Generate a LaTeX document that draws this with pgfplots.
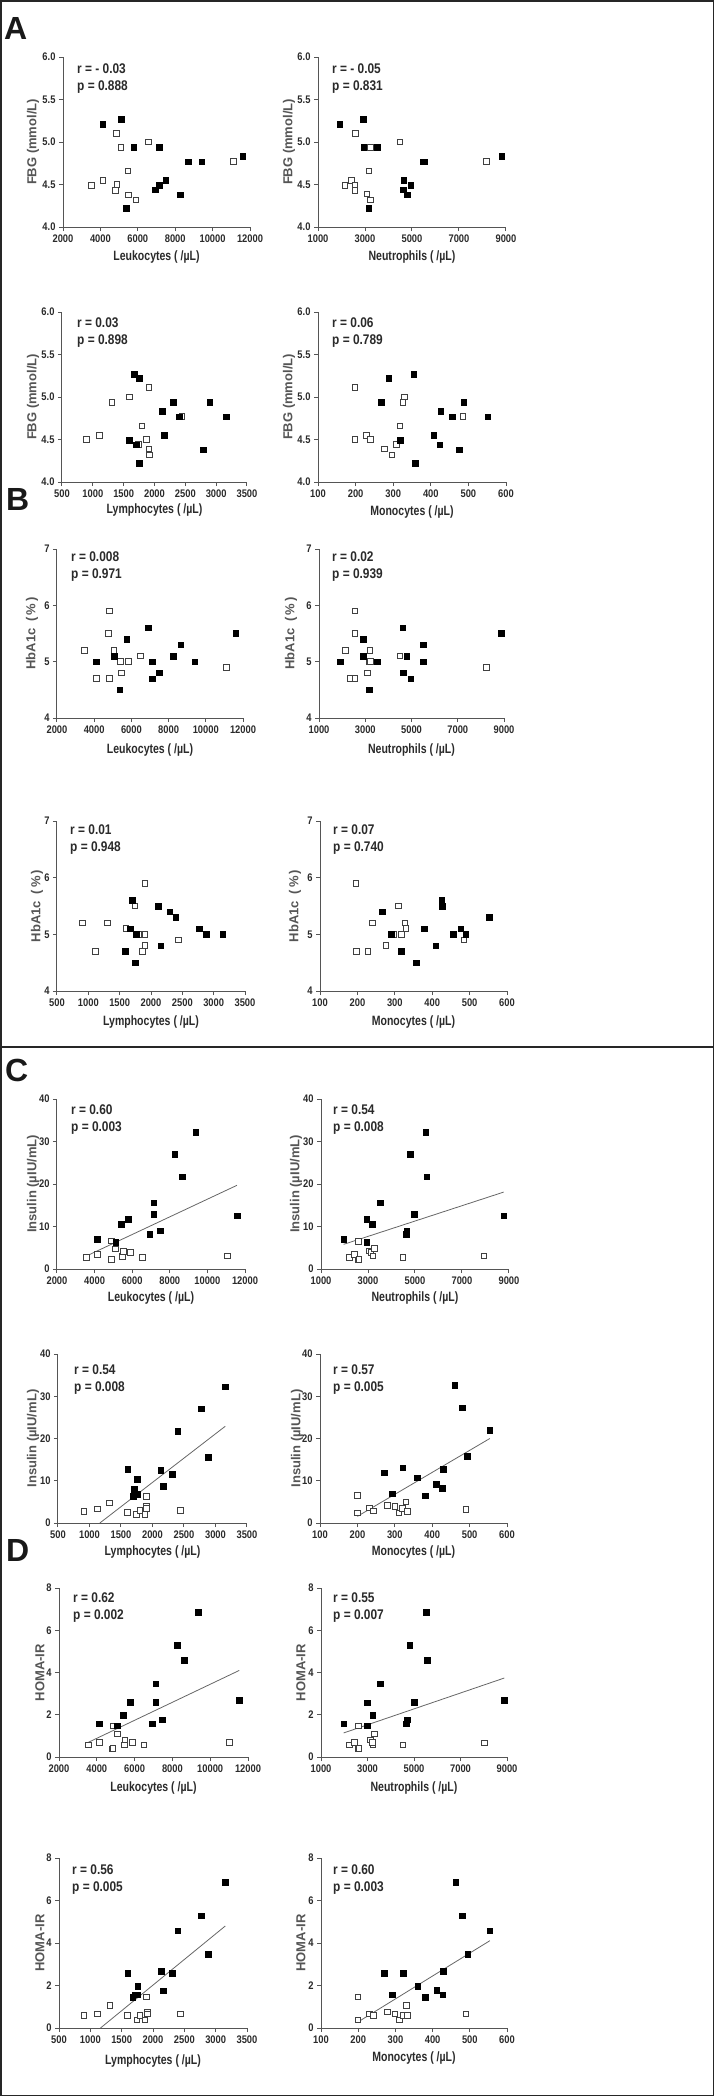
\documentclass[border=0pt]{standalone}
\usepackage{fontspec}
\setmainfont{Liberation Sans}
\newfontfamily\narrow{Liberation Sans}[FakeStretch=0.85]
\newfontfamily\narrowx{Liberation Sans}[FakeStretch=0.78]
\usepackage{pgfplots}
\pgfplotsset{compat=1.18}
\definecolor{axgray}{HTML}{555555}
\definecolor{txt}{HTML}{2A2A2A}
\tikzset{stat/.style={anchor=west, inner sep=0pt, font=\narrow\bfseries\fontsize{14}{14}\selectfont, text=txt}}
\newcommand{\st}[4]{\node[stat, xshift=#1pt, yshift=-#2pt] at (rel axis cs:0,1) {#3};
  \node[stat, xshift=#1pt, yshift={-#2pt-18.5pt}] at (rel axis cs:0,1) {#4};}
\pgfplotsset{
 base/.style={
  scale only axis, axis lines=left, axis line style={-, draw=axgray, line width=1pt},
  tick style={draw=axgray, line width=1pt}, tick align=outside, major tick length=4pt,
  minor tick num=0, clip=false, scaled ticks=false,
  ticklabel style={font=\narrow\bfseries\fontsize{11}{11}\selectfont, text=txt},
  /pgf/number format/assume math mode=true, /pgf/number format/1000 sep={},
  every axis x label/.style={at={(axis description cs:0.5,0)}, anchor=center, font=\narrowx\bfseries\fontsize{13.5}{13.5}\selectfont, text=txt},
  every axis y label/.style={at={(axis description cs:0,0.5)}, anchor=center, rotate=90, font=\bfseries\fontsize{13}{13}\selectfont, text=axgray},
  anchor=south west,
 },
 leuk/.style={xmin=2000, xmax=12000, xtick={2000,4000,6000,8000,10000,12000}, xlabel={Leukocytes ( /µL)}},
 neut/.style={xmin=1000, xmax=9000, xtick={1000,3000,5000,7000,9000}, xlabel={Neutrophils ( /µL)}},
 lymph/.style={xmin=500, xmax=3500, xtick={500,1000,1500,2000,2500,3000,3500}, xlabel={Lymphocytes ( /µL)}},
 mono/.style={xmin=100, xmax=600, xtick={100,200,300,400,500,600}, xlabel={Monocytes ( /µL)}},
 fbg/.style={ymin=4, ymax=6, ytick={4,4.5,5,5.5,6}, yticklabel style={/pgf/number format/.cd, fixed, fixed zerofill, precision=1}, ylabel={FBG (mmol/L)}},
 hba/.style={ymin=4, ymax=7, ytick={4,5,6,7}, ylabel={HbA1c\enspace(\,\%\,)}},
 ins/.style={ymin=0, ymax=40, ytick={0,10,20,30,40}, ylabel={Insulin (µIU/mL)}},
 homa/.style={ymin=0, ymax=8, ytick={0,2,4,6,8}, ylabel={HOMA-IR}},
 open/.style={only marks, mark=square*, mark size=2.8pt, mark options={fill=white, draw=black!75, line width=0.8pt}},
 filled/.style={only marks, mark=square*, mark size=2.8pt, mark options={fill=black, draw=black, line width=0.5pt}},
 reg/.style={draw=black!60, line width=0.8pt, no marks},
}
\begin{document}
\begin{tikzpicture}
\draw[line width=1.5pt, black!85] (0.75pt,-0.75pt) rectangle (713.25pt,-2095.25pt);
\draw[line width=2pt, black!85] (0pt,-1047pt) -- (714pt,-1047pt);
\node[anchor=west, inner sep=0pt, font=\bfseries\fontsize{32}{32}\selectfont, text=black!90] at (4pt,-28pt) {A};
\node[anchor=west, inner sep=0pt, font=\bfseries\fontsize{32}{32}\selectfont, text=black!90] at (6pt,-499pt) {B};
\node[anchor=west, inner sep=0pt, font=\bfseries\fontsize{32}{32}\selectfont, text=black!90] at (5pt,-1070pt) {C};
\node[anchor=west, inner sep=0pt, font=\bfseries\fontsize{32}{32}\selectfont, text=black!90] at (6pt,-1550pt) {D};

% ---------- Row 1 ----------
\begin{axis}[base, at={(63pt,-227pt)}, width=187pt, height=170pt, leuk, fbg, xlabel style={yshift=-30pt}, ylabel style={yshift=30pt}]
\addplot[open] coordinates {(3518,4.49) (4143,4.55) (4857,5.10) (5089,4.94) (4800,4.43) (4893,4.50) (5464,4.66) (5500,4.38) (5893,4.32) (6554,5.00) (11107,4.77)};
\addplot[filled] coordinates {(4125,5.21) (5125,5.27) (5786,4.94) (5393,4.22) (6929,4.44) (7143,4.94) (7143,4.49) (7500,4.55) (8286,4.38) (8696,4.77) (9411,4.77) (11607,4.83)};
\st{14}{12}{r = - 0.03}{p = 0.888}
\end{axis}
\begin{axis}[base, at={(318pt,-227pt)}, width=188pt, height=170pt, neut, fbg, xlabel style={yshift=-30pt}, ylabel style={yshift=29pt}]
\addplot[open] coordinates {(2137,4.49) (2421,4.55) (2563,4.49) (2563,4.43) (2592,5.10) (3089,4.39) (3174,4.66) (3231,4.94) (3231,4.32) (4481,5.00) (8176,4.77)};
\addplot[filled] coordinates {(1924,5.21) (2918,5.27) (2947,4.94) (3529,4.94) (3160,4.22) (4623,4.44) (4652,4.55) (4794,4.38) (4950,4.49) (5476,4.77) (5530,4.77) (8815,4.83)};
\st{14}{12}{r = - 0.05}{p = 0.831}
\end{axis}

% ---------- Row 2 ----------
\begin{axis}[base, at={(62pt,-482pt)}, width=185pt, height=170pt, lymph, fbg, xlabel style={yshift=-28pt}, ylabel style={yshift=29pt}]
\addplot[open] coordinates {(893,4.50) (1103,4.55) (1308,4.94) (1593,5.00) (1906,5.11) (1793,4.66) (1873,4.50) (1739,4.44) (1906,4.39) (1916,4.32) (2444,4.77)};
\addplot[filled] coordinates {(1674,5.27) (1750,5.22) (1593,4.49) (1701,4.44) (1750,4.22) (2127,4.83) (2304,4.94) (2159,4.55) (2401,4.77) (2789,4.38) (2897,4.94) (3166,4.77)};
\st{15}{11}{r = 0.03}{p = 0.898}
\end{axis}
\begin{axis}[base, at={(318pt,-482pt)}, width=188pt, height=170pt, mono, fbg, xlabel style={yshift=-30pt}, ylabel style={yshift=29pt}]
\addplot[open] coordinates {(198,5.11) (198,4.50) (229,4.55) (239,4.50) (276,4.39) (297,4.32) (309,4.44) (318,4.66) (326,4.94) (329,5.00) (485,4.77)};
\addplot[filled] coordinates {(269,4.94) (288,5.22) (318,4.49) (355,5.27) (358,4.22) (408,4.55) (426,4.83) (424,4.44) (457,4.77) (476,4.38) (488,4.94) (551,4.77)};
\st{14}{11}{r = 0.06}{p = 0.789}
\end{axis}

% ---------- Row 3 ----------
\begin{axis}[base, at={(57pt,-718pt)}, width=186pt, height=169pt, leuk, hba, xlabel style={yshift=-32pt}, ylabel style={yshift=25pt}]
\addplot[open] coordinates {(3487,5.2) (4115,4.7) (4778,5.5) (4832,5.9) (4832,4.7) (5065,5.2) (5423,5.0) (5477,4.8) (5853,5.0) (6498,5.1) (11104,4.9)};
\addplot[filled] coordinates {(4115,5.0) (5065,5.1) (5369,4.5) (5746,5.4) (6910,5.6) (7125,5.0) (7125,4.7) (7502,4.8) (8237,5.1) (8649,5.3) (9401,5.0) (11606,5.5)};
\st{14}{8}{r = 0.008}{p = 0.971}
\end{axis}
\begin{axis}[base, at={(319pt,-718pt)}, width=185pt, height=169pt, neut, hba, xlabel style={yshift=-32pt}, ylabel style={yshift=28pt}]
\addplot[open] coordinates {(2153,5.2) (2369,4.7) (2557,4.7) (2557,5.5) (2557,5.9) (3090,4.8) (3177,5.0) (3230,5.0) (3205,5.2) (4503,5.1) (8250,4.9)};
\addplot[filled] coordinates {(1908,5.0) (2917,5.4) (2917,5.1) (3162,4.5) (3523,5.0) (4618,5.6) (4647,4.8) (4791,5.1) (4964,4.7) (5512,5.3) (5512,5.0) (8870,5.5)};
\st{13}{8}{r = 0.02}{p = 0.939}
\end{axis}

% ---------- Row 4 ----------
\begin{axis}[base, at={(57pt,-991pt)}, width=188pt, height=170pt, lymph, hba, xlabel style={yshift=-31pt}, ylabel style={yshift=20pt}]
\addplot[open] coordinates {(905,5.2) (1113,4.7) (1305,5.2) (1598,5.1) (1742,5.5) (1901,5.9) (1901,5.0) (1901,4.8) (1864,4.7) (2434,4.9) (1800,5.0)};
\addplot[filled] coordinates {(1699,5.6) (1672,5.1) (1768,5.0) (1587,4.7) (1747,4.5) (2120,5.5) (2301,5.4) (2392,5.3) (2157,4.8) (2770,5.1) (2882,5.0) (3148,5.0)};
\st{13}{9}{r = 0.01}{p = 0.948}
\end{axis}
\begin{axis}[base, at={(320pt,-991pt)}, width=187pt, height=170pt, mono, hba, xlabel style={yshift=-31pt}, ylabel style={yshift=25pt}]
\addplot[open] coordinates {(196,5.9) (198,4.7) (228,4.7) (240,5.2) (276,4.8) (298,5.0) (309,5.5) (318,5.0) (327,5.2) (330,5.1) (485,4.9)};
\addplot[filled] coordinates {(267,5.4) (290,5.0) (318,4.7) (358,4.5) (379,5.1) (409,4.8) (425,5.6) (427,5.5) (456,5.0) (476,5.1) (490,5.0) (552,5.3)};
\st{13}{9}{r = 0.07}{p = 0.740}
\end{axis}

% ---------- Row 5 ----------
\begin{axis}[base, at={(57pt,-1269pt)}, width=188pt, height=170pt, leuk, ins, xlabel style={yshift=-29pt}, ylabel style={yshift=24pt}]
\addplot[reg] coordinates {(3563,3.06) (11574,19.7)};
\addplot[open] coordinates {(3563,2.7) (4149,3.46) (4895,6.6) (4860,2.1) (4895,2.3) (5108,4.7) (5481,2.9) (5517,4.2) (5908,3.85) (6547,2.67) (11076,3.06)};
\addplot[filled] coordinates {(4149,7.0) (5126,6.3) (5428,10.5) (5783,11.7) (6938,8.2) (7151,15.6) (7151,12.9) (7506,9.0) (8270,27.0) (8661,21.7) (9389,32.2) (11574,12.5)};
\st{14}{11}{r = 0.60}{p = 0.003}
\end{axis}
\begin{axis}[base, at={(321pt,-1269pt)}, width=188pt, height=170pt, neut, ins, xlabel style={yshift=-29pt}, ylabel style={yshift=25pt}]
\addplot[reg] coordinates {(1961,5.8) (8774,18.1)};
\addplot[open] coordinates {(2201,2.67) (2428,3.46) (2597,6.44) (2597,2.1) (2610,2.3) (3064,4.24) (3120,3.85) (3205,3.06) (3262,4.87) (4477,2.67) (7940,3.06)};
\addplot[filled] coordinates {(1961,7.0) (2951,6.3) (2951,11.7) (3191,10.5) (3516,15.6) (4618,8.2) (4647,9.0) (4788,27.0) (4958,12.9) (5466,32.2) (5495,21.7) (8774,12.5)};
\st{12}{11}{r = 0.54}{p = 0.008}
\end{axis}

% ---------- Row 6 ----------
\begin{axis}[base, at={(58pt,-1523pt)}, width=189pt, height=169pt, lymph, ins, xlabel style={yshift=-29pt}, ylabel style={yshift=25pt}]
\addplot[reg] coordinates {(1164,0) (3155,22.9)};
\addplot[open] coordinates {(914,2.77) (1121,3.3) (1312,4.74) (1604,2.45) (1748,2.06) (1801,3.0) (1907,6.3) (1907,3.95) (1900,3.5) (1881,2.06) (2443,3.0)};
\addplot[filled] coordinates {(1604,12.7) (1758,10.36) (1711,8.06) (1695,6.3) (1758,6.8) (2130,12.5) (2173,8.77) (2311,11.5) (2401,21.66) (2778,27.0) (2889,15.57) (3155,32.25)};
\st{16}{16}{r = 0.54}{p = 0.008}
\end{axis}
\begin{axis}[base, at={(320pt,-1523pt)}, width=187pt, height=169pt, mono, ins, xlabel style={yshift=-29pt}, ylabel style={yshift=23pt}]
\addplot[reg] coordinates {(200,1.58) (554,20.0)};
\addplot[open] coordinates {(200,6.56) (200,2.37) (232,3.56) (242,2.85) (280,4.19) (300,3.95) (311,2.37) (321,3.4) (330,4.98) (333,2.77) (490,3.24)};
\addplot[filled] coordinates {(271,11.86) (293,6.96) (321,13.04) (360,10.75) (382,6.48) (411,9.17) (429,12.7) (427,8.3) (460,32.65) (480,27.27) (493,15.8) (554,21.9)};
\st{13}{16}{r = 0.57}{p = 0.005}
\end{axis}

% ---------- Row 7 ----------
\begin{axis}[base, at={(59pt,-1757pt)}, width=189pt, height=169pt, leuk, homa, xlabel style={yshift=-31pt}, ylabel style={yshift=19pt}]
\addplot[reg] coordinates {(3540,0.69) (11540,4.10)};
\addplot[open] coordinates {(3540,0.58) (4124,0.69) (4867,1.48) (4832,0.39) (4860,0.42) (5097,1.09) (5487,0.82) (5451,0.58) (5876,0.69) (6496,0.58) (11027,0.69)};
\addplot[filled] coordinates {(4124,1.58) (5097,1.48) (5398,1.97) (5770,2.59) (6920,1.58) (7115,3.47) (7115,2.59) (7469,1.77) (8248,5.29) (8619,4.58) (9363,6.86) (11540,2.68)};
\st{14}{10}{r = 0.62}{p = 0.002}
\end{axis}
\begin{axis}[base, at={(321pt,-1757pt)}, width=186pt, height=169pt, neut, homa, xlabel style={yshift=-31pt}, ylabel style={yshift=20pt}]
\addplot[reg] coordinates {(1975,1.14) (8885,3.74)};
\addplot[open] coordinates {(2219,0.58) (2448,0.69) (2620,0.39) (2620,1.48) (3122,0.82) (3237,0.58) (3294,1.09) (3222,0.69) (4527,0.58) (8025,0.66) (2630,0.42)};
\addplot[filled] coordinates {(1975,1.58) (2978,1.48) (2978,2.56) (3222,1.97) (3552,3.47) (4656,1.58) (4699,1.77) (4814,5.29) (5014,2.59) (5530,6.86) (5559,4.58) (8885,2.68)};
\st{12}{10}{r = 0.55}{p = 0.007}
\end{axis}

% ---------- Row 8 ----------
\begin{axis}[base, at={(59pt,-2028pt)}, width=188pt, height=170pt, lymph, homa, xlabel style={yshift=-33pt}, ylabel style={yshift=19pt}]
\addplot[reg] coordinates {(1162,0) (3153,4.80)};
\addplot[open] coordinates {(900,0.6) (1114,0.66) (1311,1.07) (1594,0.6) (1744,0.38) (1792,0.6) (1872,0.38) (1899,1.46) (1909,0.76) (1909,0.66) (2438,0.66)};
\addplot[filled] coordinates {(1594,2.57) (1674,1.46) (1712,1.57) (1754,1.57) (1754,1.98) (2128,2.68) (2165,1.75) (2304,2.57) (2395,4.57) (2774,5.28) (2886,3.46) (3153,6.85)};
\st{13}{12}{r = 0.56}{p = 0.005}
\end{axis}
\begin{axis}[base, at={(321pt,-2028pt)}, width=186pt, height=170pt, mono, homa, xlabel style={yshift=-30pt}, ylabel style={yshift=20pt}]
\addplot[reg] coordinates {(199,0.28) (554,4.11)};
\addplot[open] coordinates {(199,1.46) (199,0.38) (230,0.66) (241,0.6) (279,0.76) (299,0.66) (311,0.38) (321,0.6) (329,1.07) (332,0.6) (489,0.66)};
\addplot[filled] coordinates {(270,2.57) (292,1.57) (321,2.57) (360,1.98) (381,1.46) (411,1.78) (427,1.57) (429,2.68) (462,6.85) (480,5.28) (494,3.46) (554,4.57)};
\st{12}{12}{r = 0.60}{p = 0.003}
\end{axis}

\pgfresetboundingbox
\path[use as bounding box] (0pt,0pt) rectangle (714pt,-2096pt);
\end{tikzpicture}
\end{document}
